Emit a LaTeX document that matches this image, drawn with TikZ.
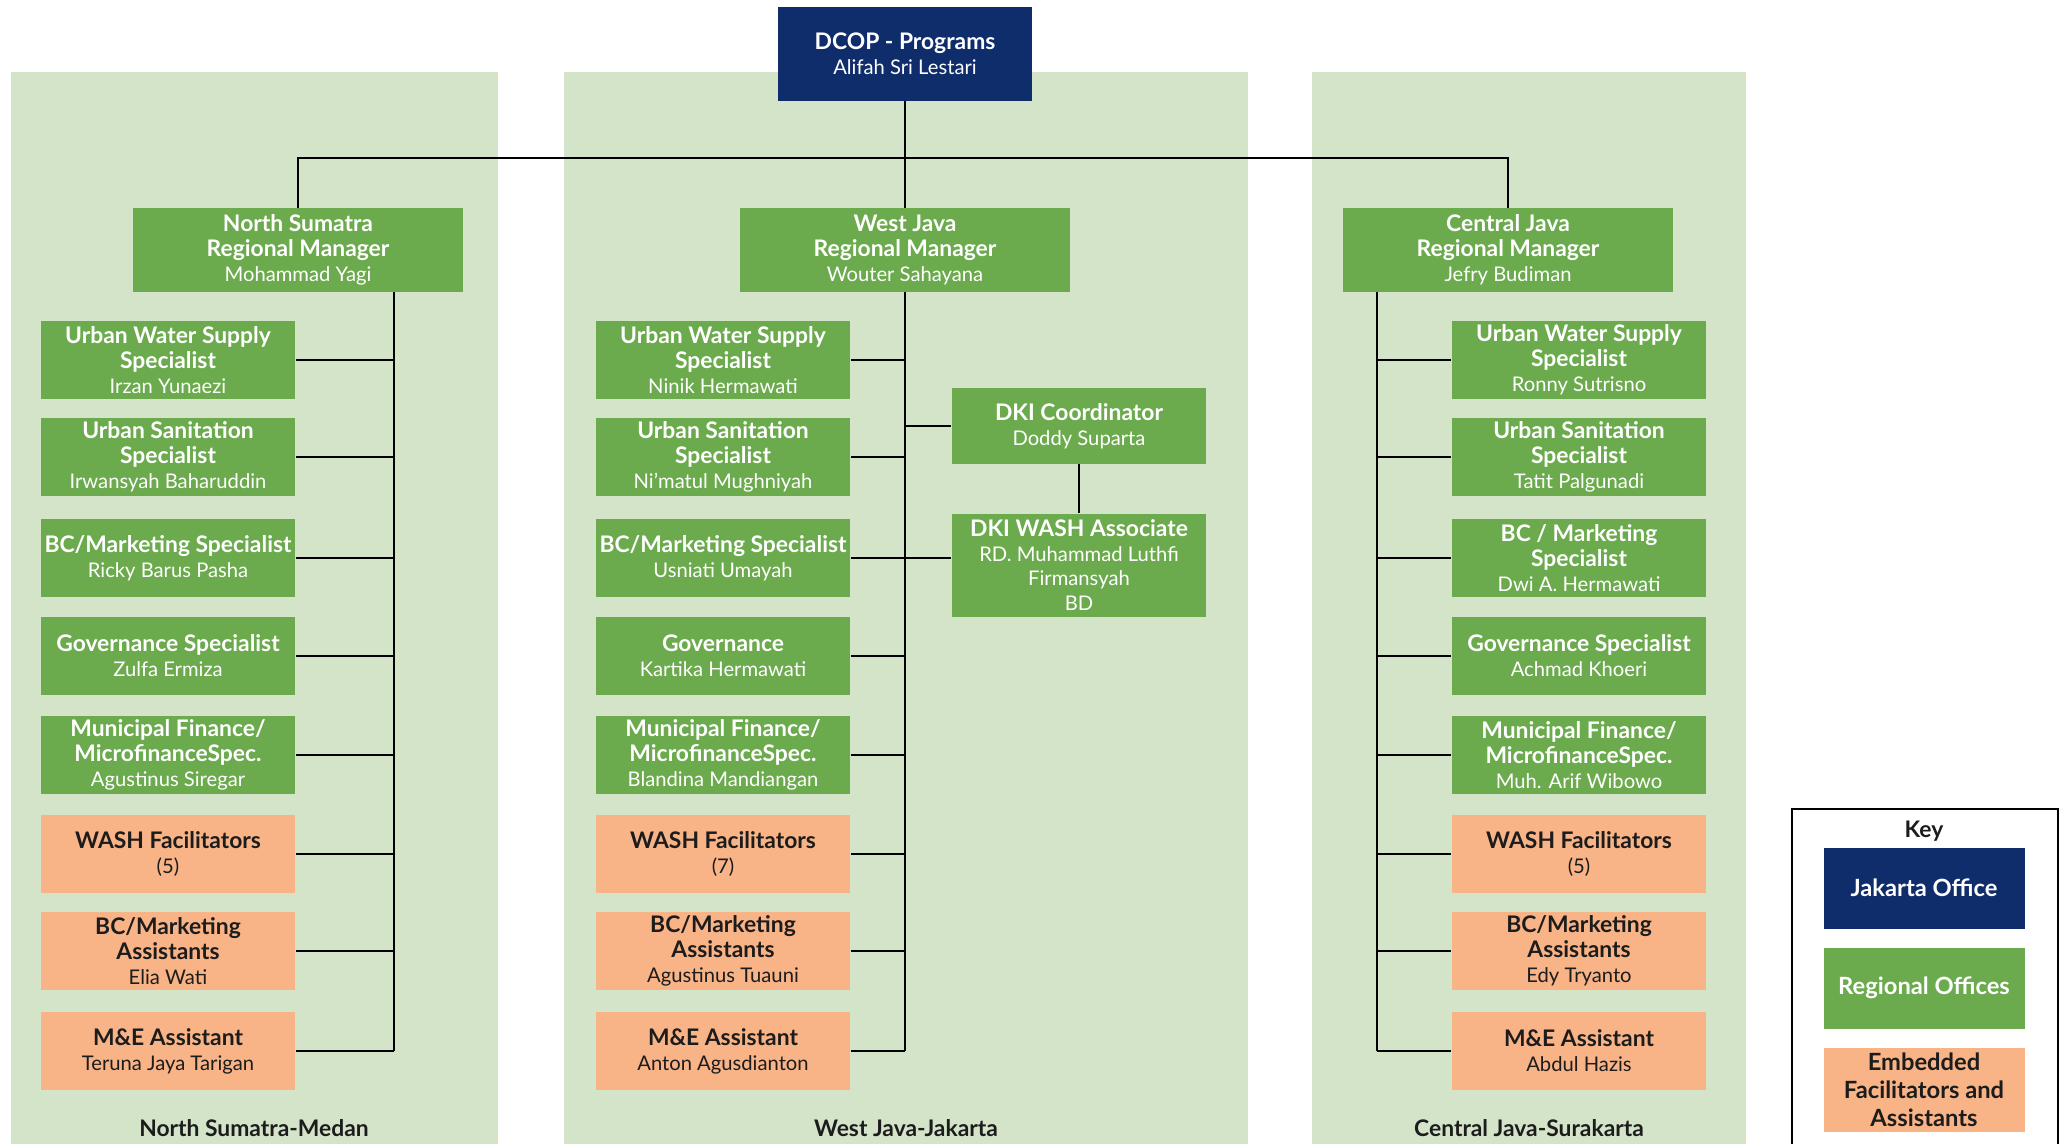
\documentclass[tikz,border=0pt]{standalone}
\usepackage{fontspec}
\setmainfont{Lato}
\usepackage{tikz}

\definecolor{navy}{HTML}{0F2D6B}
\definecolor{boxgreen}{HTML}{6BAA4D}
\definecolor{panelgreen}{HTML}{D3E4C9}
\definecolor{boxorange}{HTML}{F8B387}
\definecolor{darktext}{HTML}{1C1C1C}

\newcommand{\boxtitle}[1]{{\fontsize{13}{14.2}\selectfont\bfseries #1}}

\tikzset{
    hqbox/.style={fill=navy, text=white, minimum width=5.1cm, minimum height=1.88cm, align=center, inner sep=1pt},
    mgrbox/.style={fill=boxgreen, text=white, minimum width=6.6cm, minimum height=1.68cm, align=center, inner sep=1pt},
    staffbox/.style={fill=boxgreen, text=white, minimum width=5.1cm, minimum height=1.55cm, align=center, inner sep=1pt},
    asstbox/.style={staffbox, fill=boxorange, text=darktext},
    keybox/.style={minimum width=4.02cm, minimum height=1.62cm, font=\fontsize{13.5}{16}\selectfont\bfseries},
    link/.style={draw=black, line width=1pt}
}

\begin{document}
\begin{tikzpicture}[x=0.02cm, y=-0.02cm, font=\fontsize{11.5}{14.2}\selectfont]
    \useasboundingbox (0,0) rectangle (2062,1144);

    % region panels
    \fill[panelgreen] (11,72) rectangle (498,1144);
    \fill[panelgreen] (564,72) rectangle (1248,1144);
    \fill[panelgreen] (1312,72) rectangle (1746,1144);

    \node[hqbox] (hq) at (905,54) {\boxtitle{DCOP - Programs}\\Alifah Sri Lestari};

    % regional managers
    \node[mgrbox] (nsrm) at (298,250) {\boxtitle{North Sumatra}\\\boxtitle{Regional Manager}\\Mohammad Yagi};
    \node[mgrbox] (wjrm) at (905,250) {\boxtitle{West Java}\\\boxtitle{Regional Manager}\\Wouter Sahayana};
    \node[mgrbox] (cjrm) at (1508,250) {\boxtitle{Central Java}\\\boxtitle{Regional Manager}\\Jefry Budiman};

    % North Sumatra
    \node[staffbox] (ns1) at (168,360) {\boxtitle{Urban Water Supply}\\\boxtitle{Specialist}\\Irzan Yunaezi};
    \node[staffbox] (ns2) at (168,457) {\boxtitle{Urban Sanitation}\\\boxtitle{Specialist}\\Irwansyah Baharuddin};
    \node[staffbox] (ns3) at (168,558) {\boxtitle{BC/Marketing Specialist}\\Ricky Barus Pasha};
    \node[staffbox] (ns4) at (168,656) {\boxtitle{Governance Specialist}\\Zulfa Ermiza};
    \node[staffbox] (ns5) at (168,755) {\boxtitle{Municipal Finance/}\\\boxtitle{MicrofinanceSpec.}\\Agustinus Siregar};
    \node[asstbox] (ns6) at (168,854) {\boxtitle{WASH Facilitators}\\(5)};
    \node[asstbox] (ns7) at (168,951) {\boxtitle{BC/Marketing}\\\boxtitle{Assistants}\\Elia Wati};
    \node[asstbox] (ns8) at (168,1051) {\boxtitle{M\&E Assistant}\\Teruna Jaya Tarigan};

    % West Java
    \node[staffbox] (wj1) at (723,360) {\boxtitle{Urban Water Supply}\\\boxtitle{Specialist}\\Ninik Hermawati};
    \node[staffbox] (wj2) at (723,457) {\boxtitle{Urban Sanitation}\\\boxtitle{Specialist}\\Ni’matul Mughniyah};
    \node[staffbox] (wj3) at (723,558) {\boxtitle{BC/Marketing Specialist}\\Usniati Umayah};
    \node[staffbox] (wj4) at (723,656) {\boxtitle{Governance}\\Kartika Hermawati};
    \node[staffbox] (wj5) at (723,755) {\boxtitle{Municipal Finance/}\\\boxtitle{MicrofinanceSpec.}\\Blandina Mandiangan};
    \node[asstbox] (wj6) at (723,854) {\boxtitle{WASH Facilitators}\\(7)};
    \node[asstbox] (wj7) at (723,951) {\boxtitle{BC/Marketing}\\\boxtitle{Assistants}\\Agustinus Tuauni};
    \node[asstbox] (wj8) at (723,1051) {\boxtitle{M\&E Assistant}\\Anton Agusdianton};
    \node[staffbox, minimum height=1.52cm] (dkic) at (1079,426) {\boxtitle{DKI Coordinator}\\Doddy Suparta};
    \node[staffbox, minimum height=2.06cm] (dkiw) at (1079,565) {\boxtitle{DKI WASH Associate}\\RD. Muhammad Luthfi\\Firmansyah\\BD};

    % Central Java
    \node[staffbox] (cj1) at (1579,360) {\boxtitle{Urban Water Supply}\\\boxtitle{Specialist}\\Ronny Sutrisno};
    \node[staffbox] (cj2) at (1579,457) {\boxtitle{Urban Sanitation}\\\boxtitle{Specialist}\\Tatit Palgunadi};
    \node[staffbox] (cj3) at (1579,558) {\boxtitle{BC / Marketing}\\\boxtitle{Specialist}\\Dwi A. Hermawati};
    \node[staffbox] (cj4) at (1579,656) {\boxtitle{Governance Specialist}\\Achmad Khoeri};
    \node[staffbox] (cj5) at (1579,755) {\boxtitle{Municipal Finance/}\\\boxtitle{MicrofinanceSpec.}\\Muh. Arif Wibowo};
    \node[asstbox] (cj6) at (1579,854) {\boxtitle{WASH Facilitators}\\(5)};
    \node[asstbox] (cj7) at (1579,951) {\boxtitle{BC/Marketing}\\\boxtitle{Assistants}\\Edy Tryanto};
    \node[asstbox] (cj8) at (1579,1051) {\boxtitle{M\&E Assistant}\\Abdul Hazis};

    % region names
    \node[text=darktext] (nsname) at (254,1128) {\boxtitle{North Sumatra-Medan}};
    \node[text=darktext] (wjname) at (906,1128) {\boxtitle{West Java-Jakarta}};
    \node[text=darktext] (cjname) at (1529,1128) {\boxtitle{Central Java-Surakarta}};

    % top level links
    \coordinate (bar) at (905,158);
    \draw[link] (hq.south) -- (wjrm.north);
    \draw[link] (nsrm.north) |- (bar) -| (cjrm.north);

    % buses
    \coordinate (nsbus) at (394,1051);
    \coordinate (wjbus) at (905,1051);
    \coordinate (cjbus) at (1377,1051);
    \draw[link] (nsrm.south -| nsbus) -- (nsbus);
    \draw[link] (wjrm.south) -- (wjbus);
    \draw[link] (cjrm.south -| cjbus) -- (cjbus);

    \draw[link] (ns1.east) -- (ns1.east -| nsbus);
    \draw[link] (ns2.east) -- (ns2.east -| nsbus);
    \draw[link] (ns3.east) -- (ns3.east -| nsbus);
    \draw[link] (ns4.east) -- (ns4.east -| nsbus);
    \draw[link] (ns5.east) -- (ns5.east -| nsbus);
    \draw[link] (ns6.east) -- (ns6.east -| nsbus);
    \draw[link] (ns7.east) -- (ns7.east -| nsbus);
    \draw[link] (ns8.east) -- (ns8.east -| nsbus);

    \draw[link] (wj1.east) -- (wj1.east -| wjbus);
    \draw[link] (wj2.east) -- (wj2.east -| wjbus);
    \draw[link] (wj3.east) -- (wj3.east -| dkiw.west);
    \draw[link] (wj4.east) -- (wj4.east -| wjbus);
    \draw[link] (wj5.east) -- (wj5.east -| wjbus);
    \draw[link] (wj6.east) -- (wj6.east -| wjbus);
    \draw[link] (wj7.east) -- (wj7.east -| wjbus);
    \draw[link] (wj8.east) -- (wj8.east -| wjbus);
    \draw[link] (dkic.west -| wjbus) -- (dkic.west);
    \draw[link] (dkic) -- (dkiw);

    \draw[link] (cj1.west) -- (cj1.west -| cjbus);
    \draw[link] (cj2.west) -- (cj2.west -| cjbus);
    \draw[link] (cj3.west) -- (cj3.west -| cjbus);
    \draw[link] (cj4.west) -- (cj4.west -| cjbus);
    \draw[link] (cj5.west) -- (cj5.west -| cjbus);
    \draw[link] (cj6.west) -- (cj6.west -| cjbus);
    \draw[link] (cj7.west) -- (cj7.west -| cjbus);
    \draw[link] (cj8.west) -- (cj8.west -| cjbus);

    % key
    \draw[line width=0.8pt] (1792,1144) |- (2058,809) -- (2058,1144);
    \node[text=darktext] (keytitle) at (1924,831) {\boxtitle{Key}};
    \node[hqbox, keybox] (keyhq) at (1924,888) {Jakarta Office};
    \node[mgrbox, keybox] (keyreg) at (1924,988) {Regional Offices};
    \node[asstbox, keybox, minimum height=1.68cm] (keyemb) at (1924,1090) {Embedded\\Facilitators and\\Assistants};
\end{tikzpicture}
\end{document}
